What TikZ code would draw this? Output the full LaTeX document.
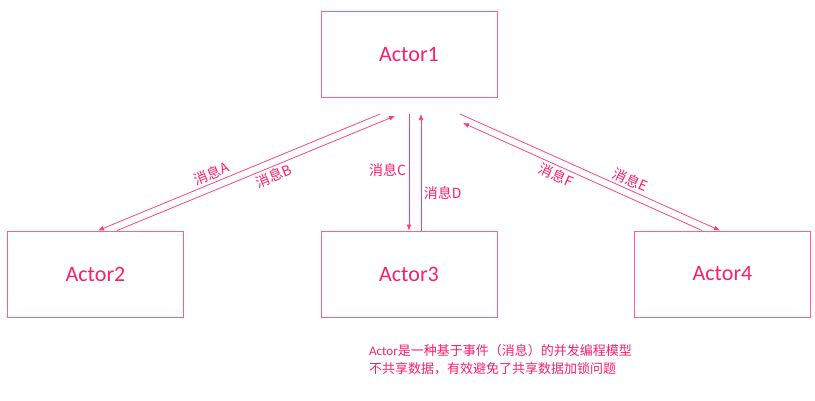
\documentclass[tikz,border=0pt]{standalone}
\usepackage{fontspec}
\setmainfont{Carlito}
\newfontfamily\cjk{Noto Sans CJK SC}
\usetikzlibrary{arrows.meta}
\definecolor{actortext}{RGB}{250,30,110}
\definecolor{actorline}{RGB}{255,95,145}
\definecolor{msgline}{RGB}{255,60,130}
\begin{document}
\begin{tikzpicture}[x=1pt, y=-1pt,
    actor/.style={draw=actorline, line width=1pt, minimum width=176pt, minimum height=86pt,
        inner sep=0pt, text=actortext, font=\fontsize{22}{26}\selectfont},
    msg/.style={draw=msgline, line width=0.75pt, -{Latex[length=6pt,width=5pt]}},
    msglabel/.style={text=actortext, font=\fontsize{14}{16}\selectfont\cjk, inner sep=2.5pt},
    note/.style={text=actortext, font=\fontsize{13}{18}\selectfont, align=left, inner sep=0pt}]
    \useasboundingbox (0,0) rectangle (815,400);

    % Actors
    \node[actor] (act1) at (409,54) {Actor1};
    \node[actor] (act2) at (95.5,274) {Actor2};
    \node[actor] (act3) at (409,274) {Actor3};
    \node[actor] (act4) at (722.5,274) {Actor4};

    % Free ends of the messages below Actor1
    \coordinate (upA) at (380,114);
    \coordinate (upB) at (395,116);
    \coordinate (upC) at (409,114);
    \coordinate (upD) at (421,114);
    \coordinate (upE) at (460,114);
    \coordinate (upF) at (463,123);

    % Messages between Actor1 and Actor2
    \draw[msg] (upA) -- ([xshift=2.5pt]act2.north) node[msglabel, sloped, anchor=south, pos=0.585] {消息A};
    \draw[msg] ([xshift=21.5pt]act2.north) -- (upB) node[msglabel, sloped, anchor=north, pos=0.55] {消息B};

    % Messages between Actor1 and Actor3
    \draw[msg] (upC) -- (act3.north) node[msglabel, left, pos=0.48] {消息C};
    \draw[msg] ([xshift=12pt]act3.north) -- (upD) node[msglabel, right, pos=0.32] {消息D};

    % Messages between Actor1 and Actor4
    \draw[msg] (upE) -- ([xshift=-2.5pt]act4.north) node[msglabel, sloped, anchor=south, pos=0.64] {消息E};
    \draw[msg] ([xshift=-20.5pt]act4.north) -- (upF) node[msglabel, sloped, anchor=north, pos=0.594] {消息F};

    % Note
    \node[note, anchor=base west] (remark) at (369,373)
        {Actor{\cjk 是一种基于事件（消息）的并发编程模型}\\{\cjk 不共享数据，有效避免了共享数据加锁问题}};
\end{tikzpicture}
\end{document}
